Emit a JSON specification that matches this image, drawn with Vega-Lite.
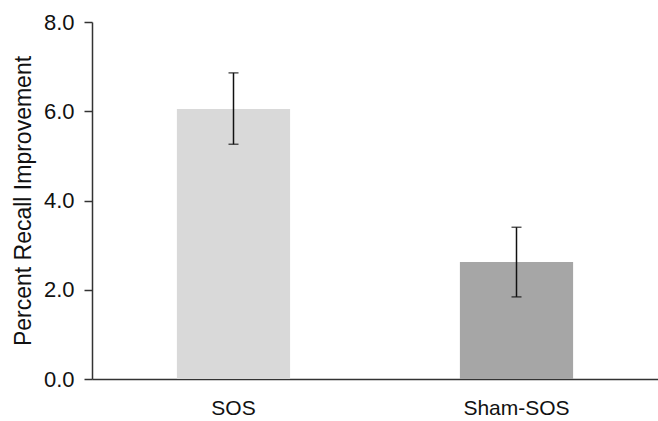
{
  "$schema": "https://vega.github.io/schema/vega-lite/v6.json",
  "width": 566,
  "height": 357,
  "autosize": {"type": "none"},
  "padding": {"left": 92, "top": 22, "right": 0, "bottom": 42},
  "background": "white",
  "config": {
    "view": {"stroke": null},
    "font": "Liberation Sans"
  },
  "data": {
    "values": [
      {"group": "SOS", "value": 6.05, "lo": 5.26, "hi": 6.86},
      {"group": "Sham-SOS", "value": 2.62, "lo": 1.84, "hi": 3.40}
    ]
  },
  "encoding": {
    "x": {
      "field": "group",
      "type": "nominal",
      "sort": ["SOS", "Sham-SOS"],
      "scale": {"paddingInner": 0.6, "paddingOuter": 0.3},
      "axis": {
        "title": null,
        "labelAngle": 0,
        "ticks": false,
        "labelPadding": 18,
        "labelFontSize": 21,
        "labelColor": "#111",
        "domainColor": "#333",
        "domainWidth": 1.5
      }
    }
  },
  "layer": [
    {
      "mark": {"type": "bar"},
      "encoding": {
        "y": {
          "field": "value",
          "type": "quantitative",
          "scale": {"domain": [0, 8]},
          "axis": {
            "title": "Percent Recall Improvement",
            "titleFontSize": 23,
            "titleFontWeight": "normal",
            "titleColor": "#111",
            "titlePadding": 8,
            "values": [0, 2, 4, 6, 8],
            "format": ".1f",
            "grid": false,
            "labelFontSize": 22,
            "labelColor": "#111",
            "labelPadding": 10,
            "tickSize": 8,
            "tickColor": "#333",
            "tickWidth": 1.5,
            "domainColor": "#333",
            "domainWidth": 1.5
          }
        },
        "color": {
          "field": "group",
          "type": "nominal",
          "scale": {"domain": ["SOS", "Sham-SOS"], "range": ["#d9d9d9", "#a6a6a6"]},
          "legend": null
        }
      }
    },
    {
      "mark": {"type": "rule", "color": "#111", "strokeWidth": 1.5},
      "encoding": {
        "y": {"field": "lo", "type": "quantitative"},
        "y2": {"field": "hi"}
      }
    },
    {
      "mark": {"type": "tick", "color": "#111", "thickness": 1.5, "size": 10},
      "encoding": {
        "y": {"field": "lo", "type": "quantitative"}
      }
    },
    {
      "mark": {"type": "tick", "color": "#111", "thickness": 1.5, "size": 10},
      "encoding": {
        "y": {"field": "hi", "type": "quantitative"}
      }
    }
  ]
}
